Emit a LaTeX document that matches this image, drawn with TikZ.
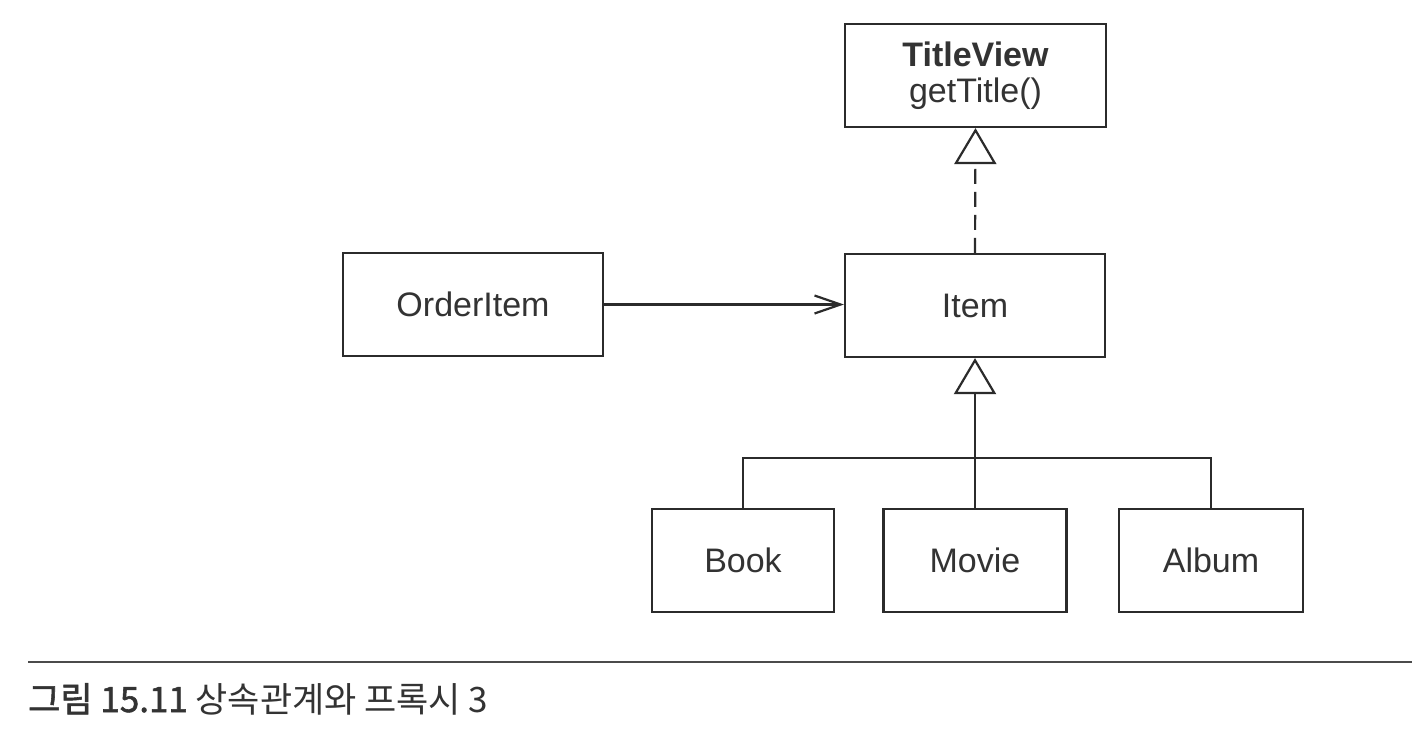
\documentclass[tikz,border=0pt]{standalone}
\usepackage{fontspec}
\setmainfont{Liberation Sans}
\newfontfamily\cjk{Noto Sans CJK KR}
\newfontfamily\cjkmed[FakeBold=1.6]{Noto Sans CJK KR}
\usetikzlibrary{arrows.meta}
\definecolor{linecol}{HTML}{2B2B2B}
\definecolor{textcol}{HTML}{333333}
\begin{document}
\begin{tikzpicture}[x=1pt,y=-1pt,
  box/.style={draw=linecol, line width=2.2pt, minimum height=103pt, inner sep=0pt,
    text=textcol, font=\fontsize{34}{36}\selectfont, fill=white},
  conn/.style={draw=linecol, line width=2.2pt},
  inherit/.style={-{Triangle[open,length=36pt,width=42pt,line width=2.2pt]}},
  navig/.style={-{Straight Barb[length=26pt,width=18pt,line width=2.2pt]}},
  realize/.style={dash pattern=on 15pt off 8pt},
  rulestyle/.style={draw=linecol!85, line width=1.5pt}]
\useasboundingbox[fill=white] (0,0) rectangle (1412,742);

\node[box, minimum width=261pt, align=center] (title) at (975.5,75.5)
  {\textbf{TitleView}\\getTitle()};
\node[box, minimum width=260pt] (item) at (975,305.5) {Item};
\node[box, minimum width=260pt] (order) at (473,304.5) {OrderItem};
\node[box, minimum width=182pt] (book) at (743,560.5) {Book};
\node[box, minimum width=183pt] (movie) at (975,560.5) {Movie};
\node[box, minimum width=184pt] (album) at (1211,560.5) {Album};

\draw[conn, realize, inherit] (item.north) -- (title.south);
\draw[conn, navig] (order.east) -- (order.east -| item.west);
\draw[conn, inherit] (movie.north) -- (item.south);
\coordinate (hub) at (975,458);
\draw[conn] (book.north) |- (hub) -| (album.north);

\coordinate (ruleL) at (28,662);
\coordinate (ruleR) at (1412,662);
\draw[rulestyle] (ruleL) -- (ruleR);
\node[anchor=base west, inner sep=0pt, text=textcol,
  font=\cjk\fontsize{35}{40}\selectfont] (caption) at (28,712)
  {{\cjkmed 그림 15.11} 상속관계와 프록시 3};
\end{tikzpicture}
\end{document}
